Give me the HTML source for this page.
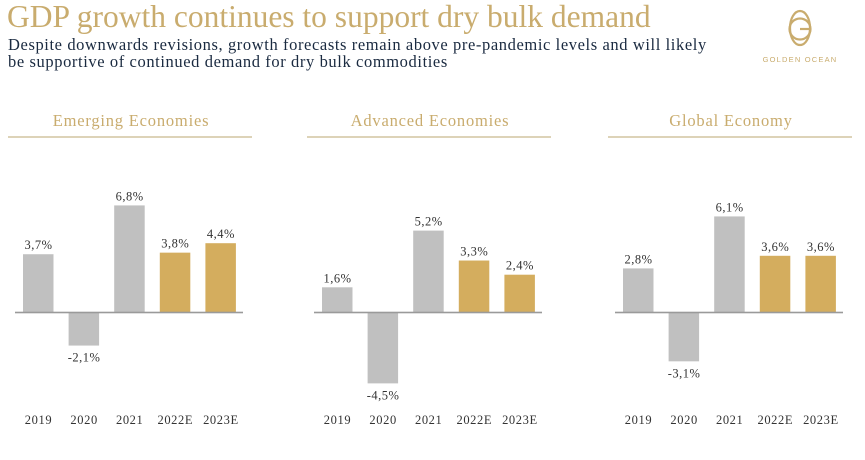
<!DOCTYPE html>
<html><head><meta charset="utf-8"><style>
body{margin:0;width:865px;height:460px;background:#fff;overflow:hidden;position:relative;font-family:"Liberation Serif",serif}
#title{position:absolute;left:7px;top:-1px;font-size:31.5px;color:#c9ac6e;white-space:nowrap}
#sub{position:absolute;left:8px;top:36px;font-size:16.5px;line-height:17px;color:#1a2a40;letter-spacing:0.6px;width:760px;white-space:nowrap}
svg{position:absolute;left:0;top:0}
</style></head><body>
<div id="title">GDP growth continues to support dry bulk demand</div>
<div id="sub">Despite downwards revisions, growth forecasts remain above pre-pandemic levels and will likely<br>be supportive of continued demand for dry bulk commodities</div>
<svg width="865" height="460" id="chart">
<g fill="none" stroke="#c9ac6e" stroke-width="2.2">
<ellipse cx="800" cy="28" rx="10" ry="17"/><circle cx="800" cy="29" r="10.5"/>
<path d="M800 29 h10.5"/>
<text x="800" y="62" fill="#c9ac6e" stroke="none" font-family="Liberation Sans,sans-serif" font-size="7.5" letter-spacing="1.2" text-anchor="middle">GOLDEN OCEAN</text>
</g>
</svg>
<script>
const panels=["Emerging Economies","Advanced Economies","Global Economy"];
const categories=["2019","2020","2021","2022E","2023E"];
const emerging=[3.7,-2.1,6.8,3.8,4.4];
const advanced=[1.6,-4.5,5.2,3.3,2.4];
const global=[2.8,-3.1,6.1,3.6,3.6];
const valueLabels=[["3,7%","-2,1%","6,8%","3,8%","4,4%"],["1,6%","-4,5%","5,2%","3,3%","2,4%"],["2,8%","-3,1%","6,1%","3,6%","3,6%"]];
const series=[emerging,advanced,global];
const NS="http://www.w3.org/2000/svg";
const svg=document.getElementById('chart');
const lefts=[15,314,615];
const base=312.5, scale=15.75;
function y(v){return base-v*scale;}
function x(pi,i){return lefts[pi]+8+i*45.6;}
function mk(tag,attrs){const e=document.createElementNS(NS,tag);for(const k in attrs)e.setAttribute(k,attrs[k]);svg.appendChild(e);return e;}
panels.forEach((p,pi)=>{
 const L=lefts[pi];
 const h=mk('text',{x:L+116,y:126,'text-anchor':'middle','font-size':16.5,'letter-spacing':0.8,fill:'#c9ac6e','font-family':'Liberation Serif,serif'});
 h.textContent=p;
 
 
 const u=mk('rect',{x:L-7,y:136,width:244,height:2,fill:'#ddd3b8'});
 
 
 series[pi].forEach((v,i)=>{
  const bx=x(pi,i);
  const top=Math.min(y(v),base), hgt=Math.abs(y(v)-base);
  const r=mk('rect',{x:bx,y:top,width:30.5,height:hgt,fill:i>=3?'#d4ad5e':'#c0c0c0'});
  
  
  const t=mk('text',{x:bx+15.5,y:v>=0?y(v)-5:y(v)+16,'text-anchor':'middle','font-size':12.5,'letter-spacing':0.5,fill:'#333','font-family':'Liberation Serif,serif'});
  t.textContent=valueLabels[pi][i];
  
  
  const c=mk('text',{x:bx+15.5,y:424,'text-anchor':'middle','font-size':12.5,'letter-spacing':0.6,fill:'#333','font-family':'Liberation Serif,serif'});
  c.textContent=categories[i];
  
  
 });
 const a=mk('rect',{x:L,y:base-0.8,width:228,height:1.6,fill:'#9a9a9a'});
 
 
});
</script>
</body></html>
